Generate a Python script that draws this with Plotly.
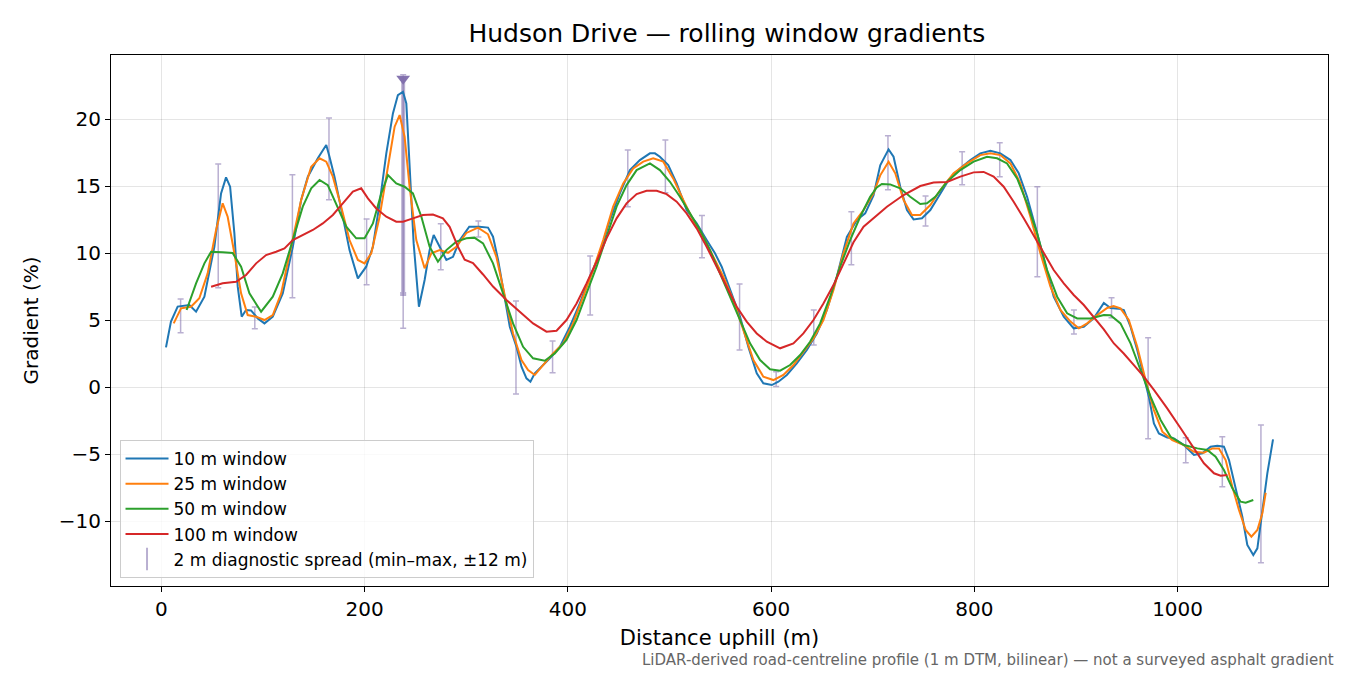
"""
Rolling-window gradient profile for Hudson Drive.

Four smoothed gradient series (10/25/50/100 m windows) along the road,
plus the min-max spread of the raw 2 m gradient at regular stations.
"""

import plotly.graph_objects as go

# --- 10 m window -----------------------------------------------------------
W10_X = [4.6, 9.5, 16.1, 27.6, 34.2, 42.4, 52.2, 58.8, 63.7, 67.7, 71.9, 75.2,
         79.1, 83.4, 88.3, 94.9, 101.5, 109.7, 119.5, 129.4, 137.6, 144.2, 154,
         162.3, 165.5, 170.4, 178.6, 185.2, 193.4, 201.6, 208.2, 214.8, 221.4,
         227.9, 232.8, 237.8, 241.1, 244.3, 248.3, 253.5, 259.1, 264, 268,
         273.9, 280.5, 287, 293.6, 303, 313, 321.5, 326.4, 331.4, 336.3, 342.9,
         349.5, 354.4, 359.3, 363.2, 367.5, 374.1, 382.3, 392.1, 402, 411.8,
         421.7, 431.5, 441.4, 451.2, 461.1, 470.9, 480.8, 485.7, 490.6, 498.8,
         507.1, 516.9, 526.8, 536.6, 544.8, 551.4, 559.6, 569.5, 577.6, 585.9,
         592.4, 600.7, 607.2, 615.5, 625.3, 635.2, 645, 654.9, 664.7, 674.6,
         684.4, 692.6, 700.8, 707.4, 715.6, 720.5, 727.1, 733.7, 740.2, 748.5,
         756.7, 766.5, 774.7, 786.2, 796.1, 805.9, 815.8, 825.6, 835.5, 843.7,
         851.9, 860.1, 868.3, 878.1, 888, 897.8, 907.7, 917.5, 927.4, 934,
         942.2, 947.1, 953.7, 960.3, 966.8, 971.7, 976.7, 981.6, 989.8, 996.4,
         1006.2, 1016.1, 1024.3, 1032.5, 1039.1, 1045.6, 1050.6, 1057.1,
         1063.7, 1068.6, 1074.5, 1078.5, 1083.4, 1088.3, 1093.9]
W10_Y = [2.96, 4.88, 6.0, 6.12, 5.62, 6.74, 10.47, 14.45, 15.65, 14.95, 11.47,
         7.49, 5.25, 5.75, 5.72, 5.12, 4.75, 5.25, 6.99, 10.47, 13.96, 15.7,
         17.07, 18.06, 17.19, 15.7, 12.71, 10.22, 8.11, 8.98, 10.47, 13.71,
         17.44, 20.42, 21.79, 22.04, 21.17, 16.94, 10.72, 5.99, 7.99, 10.22,
         11.34, 10.47, 9.48, 9.72, 10.95, 11.96, 11.96, 11.9, 11.22, 9.48, 7.24,
         4.5, 3.0, 1.52, 0.65, 0.4, 1.02, 1.52, 2.14, 3.0, 4.5, 6.24, 8.23,
         9.98, 12.46, 14.45, 16.19, 16.94, 17.44, 17.44, 17.19, 16.57, 15.2,
         13.21, 12.21, 10.97, 9.98, 8.98, 7.24, 5.25, 3.0, 1.02, 0.28, 0.15,
         0.4, 0.9, 1.77, 2.76, 4.0, 5.75, 8.23, 11.2, 12.46, 12.96, 14.3,
         16.55, 17.74, 17.19, 14.95, 13.21, 12.51, 12.59, 13.21, 14.45, 15.45,
         16.32, 16.94, 17.44, 17.64, 17.44, 16.94, 15.95, 14.2, 11.96, 9.48,
         6.74, 5.25, 4.38, 4.5, 5.12, 6.27, 5.9, 5.85, 5.75, 4.5, 2.76, 0.77,
         -0.72, -2.71, -3.46, -3.76, -3.83, -4.33, -5.07, -4.95, -4.45, -4.38,
         -4.45, -5.45, -7.44, -9.68, -11.79, -12.54, -12.04, -9.43, -6.44,
         -3.91]

# --- 25 m window -----------------------------------------------------------
W25_X = [12.2, 19.4, 29.2, 37.4, 45.6, 53.9, 60.4, 65.3, 71.9, 78.5, 85, 93.3,
         101.5, 109.7, 117.9, 127.8, 137.6, 147.5, 155.7, 162.3, 168.8, 177,
         185.2, 193.4, 200, 206.6, 214.8, 223, 229.6, 234.5, 239.4, 244.3,
         250.9, 259.1, 265.7, 273.9, 282.1, 290.3, 300.2, 311.6, 321.5, 329.7,
         337.9, 346.1, 354.4, 360.9, 367.5, 375.7, 385.5, 395.4, 405.2, 415.1,
         424.9, 434.8, 444.6, 454.5, 464.3, 474.2, 484, 493.9, 503.7, 513.6,
         523.4, 533.3, 543.2, 553, 562.9, 572.7, 582.6, 592.4, 602.3, 612.1,
         622, 631.8, 641.7, 651.5, 661.4, 671.2, 681.1, 691, 700.8, 707.4,
         715.6, 722.2, 730.4, 738.6, 746.8, 756.7, 766.5, 779.6, 792.8, 805.9,
         815.8, 825.6, 835.5, 845.3, 855.2, 865, 874.9, 884.7, 894.6, 902.8,
         911, 920.9, 930.7, 937, 943.8, 952, 960.3, 968.5, 976.7, 985, 994.8,
         1006.2, 1016.1, 1025.9, 1034.2, 1040.7, 1047.3, 1053.9, 1060.4, 1067,
         1072.6, 1078.5, 1083.4, 1086.7]
W25_Y = [4.75, 5.87, 5.99, 6.62, 8.48, 11.72, 13.71, 12.71, 9.98, 6.99, 5.37,
         5.25, 5.0, 5.37, 6.99, 10.47, 13.96, 16.44, 17.07, 16.82, 15.7, 13.46,
         10.97, 9.48, 9.23, 9.98, 12.71, 16.44, 19.43, 20.3, 18.68, 14.95,
         10.97, 8.86, 9.98, 10.22, 10.02, 10.47, 11.5, 11.9, 11.4, 9.72, 6.74,
         4.0, 2.01, 1.27, 0.9, 1.64, 2.51, 3.26, 4.75, 6.74, 8.73, 10.97,
         13.46, 15.2, 16.32, 16.82, 17.07, 16.82, 15.57, 13.96, 12.46, 11.22,
         9.72, 8.23, 6.49, 4.25, 2.01, 0.77, 0.52, 0.9, 1.64, 2.63, 3.63, 5.0,
         7.24, 9.98, 12.21, 13.21, 14.45, 15.8, 16.82, 15.95, 13.96, 12.84,
         12.84, 13.58, 14.7, 15.95, 16.69, 17.31, 17.44, 17.31, 16.69, 15.2,
         12.71, 9.98, 7.49, 5.75, 4.88, 4.38, 4.75, 5.37, 5.9, 6.05, 5.87, 5.0,
         3.0, 0.52, -1.72, -3.33, -3.96, -4.33, -4.83, -4.9, -4.58, -4.58,
         -5.45, -7.44, -9.18, -10.67, -11.17, -10.67, -9.43, -7.89]

# --- 50 m window -----------------------------------------------------------
W50_X = [24.9, 34.2, 42.4, 49, 60.4, 70.2, 78.5, 86.7, 98.2, 109.7, 119.5,
         129.4, 139.2, 147.5, 155.7, 163.8, 172.1, 182, 191.8, 200, 208.2,
         216.5, 223, 231.2, 239.4, 247.6, 255.9, 264, 272.2, 280.5, 290.3,
         300.2, 308, 316.6, 326.4, 336.3, 346.1, 356, 365.8, 377.3, 387.2,
         398.7, 408.6, 418.4, 428.3, 438.1, 448, 457.8, 467.7, 480.8, 490.6,
         500.5, 510.3, 520.2, 530, 539.9, 549.8, 559.6, 569.5, 579.3, 589.2,
         599, 608.9, 618.7, 628.6, 638.4, 648.3, 658.1, 668, 677.8, 687.7,
         697.5, 704, 709, 717.2, 727.1, 736.9, 746.8, 753.4, 761.6, 773.1,
         786.2, 799.3, 812.5, 822.4, 832.2, 842.1, 851.9, 861.8, 871.6, 881.5,
         891.3, 901.2, 914.3, 927.4, 934, 943.8, 953.7, 963.5, 973.4, 983.3,
         993.1, 1006.2, 1019.4, 1029.2, 1037.4, 1045.6, 1053.9, 1062, 1067,
         1074.5]
W50_Y = [5.75, 7.74, 9.23, 10.1, 10.05, 10.0, 8.98, 6.99, 5.62, 6.74, 8.48,
         10.97, 13.46, 14.83, 15.45, 15.07, 13.71, 11.96, 11.1, 11.1, 12.21,
         14.45, 15.82, 15.2, 14.95, 14.45, 12.71, 10.47, 9.35, 10.22, 10.85,
         11.1, 11.15, 10.72, 9.23, 6.99, 4.75, 3.0, 2.14, 1.96, 2.51, 3.51,
         5.0, 6.99, 8.98, 11.22, 13.46, 15.07, 16.19, 16.69, 16.19, 15.32,
         14.2, 12.96, 11.72, 10.22, 8.48, 6.74, 5.0, 3.26, 2.01, 1.32, 1.22,
         1.64, 2.39, 3.38, 4.75, 6.74, 8.98, 10.97, 12.71, 14.2, 14.9, 15.15,
         15.12, 14.83, 14.2, 13.66, 13.71, 14.2, 15.32, 16.19, 16.82, 17.19,
         17.07, 16.69, 15.57, 13.71, 11.47, 8.73, 6.74, 5.5, 5.12, 5.12, 5.37,
         5.35, 4.75, 3.26, 1.27, -0.72, -2.46, -3.71, -4.33, -4.58, -4.7,
         -5.2, -6.19, -7.56, -8.56, -8.63, -8.43]

# --- 100 m window ----------------------------------------------------------
W100_X = [49, 60.4, 73.6, 83.4, 93.3, 103.1, 113, 121.2, 129.4, 139.2, 149.1,
          158.9, 168.8, 178.6, 188.5, 196.7, 203.3, 211.5, 221.4, 231.2, 237.8,
          247.6, 257.4, 267.3, 277.1, 283.7, 291.9, 298.5, 306.7, 316.6, 326.4,
          339.6, 352.7, 365.8, 379, 388.9, 398.7, 408.6, 418.4, 428.3, 438.1,
          448, 457.8, 467.7, 477.5, 487.4, 497.2, 507.1, 516.9, 526.8, 536.6,
          546.5, 556.3, 566.2, 576, 585.9, 595.8, 608.9, 622, 631.8, 641.7,
          651.5, 661.4, 671.2, 681.1, 691, 700.8, 714, 730.4, 746.8, 759.9,
          773.1, 786.2, 799.3, 809.2, 819, 828.9, 838.7, 848.6, 858.4, 868.3,
          878.1, 888, 897.8, 907.7, 917.5, 927.4, 937.3, 947, 957, 966.8,
          976.7, 989.8, 1003, 1016.1, 1025.9, 1035.8, 1042.4, 1049]
W100_Y = [7.49, 7.74, 7.86, 8.36, 9.23, 9.85, 10.1, 10.35, 10.97, 11.34,
          11.72, 12.21, 12.84, 13.71, 14.58, 14.83, 14.08, 13.33, 12.71, 12.34,
          12.34, 12.59, 12.84, 12.88, 12.59, 11.96, 10.47, 9.5, 9.25, 8.4, 7.5,
          6.49, 5.62, 4.75, 4.13, 4.2, 5.0, 6.24, 7.74, 9.35, 11.1, 12.59,
          13.71, 14.4, 14.65, 14.65, 14.4, 13.83, 12.96, 11.84, 10.47, 8.98,
          7.49, 5.99, 4.88, 4.0, 3.38, 2.89, 3.26, 4.0, 5.0, 6.24, 7.61, 9.23,
          10.8, 11.96, 12.6, 13.46, 14.33, 15.0, 15.27, 15.3, 15.7, 16.02,
          16.05, 15.7, 14.95, 13.83, 12.59, 11.34, 9.98, 8.73, 7.74, 6.87,
          6.12, 5.2, 4.3, 3.25, 2.5, 1.64, 0.77, -0.22, -1.59, -3.08, -4.58,
          -5.69, -6.44, -6.62, -6.57]

# --- 2 m diagnostic spread (min / max within +-12 m of each station) --------
SPREAD_X = [19, 56, 92, 129, 165, 202, 238, 275, 312, 349, 385, 422, 459, 496,
            532, 569, 605, 642, 679, 715, 752, 788, 825, 862, 898, 935, 971,
            1008, 1044, 1082]
SPREAD_LO = [4.05, 7.41, 4.35, 6.67, 13.98, 7.64, 4.38, 8.76, 11.2, -0.52,
             1.07, 5.37, 13.46, 14.5, 9.65, 2.76, 0.03, 3.13, 9.13, 14.73,
             12.01, 15.1, 15.7, 8.23, 3.96, 5.17, -3.86, -5.65, -7.44, -13.11]
SPREAD_HI = [6.57, 16.64, 5.97, 15.85, 20.07, 12.54, 23.3, 12.19, 12.39, 6.42,
             3.43, 9.78, 17.69, 18.43, 12.81, 7.69, 1.14, 5.75, 13.09, 18.76,
             14.25, 17.56, 18.24, 14.95, 5.75, 6.66, 3.68, -3.78, -3.71, -2.84]

# station whose spread runs off the top of the axis
CLIP_X = [238]
CLIP_LO = [6.94]
CLIP_Y = [23.0]

SERIES = [
    ("10 m window", W10_X, W10_Y, "#1f77b4"),
    ("25 m window", W25_X, W25_Y, "#ff7f0e"),
    ("50 m window", W50_X, W50_Y, "#2ca02c"),
    ("100 m window", W100_X, W100_Y, "#d62728"),
]
SPREAD_COLOR = "rgba(128,110,172,0.55)"
FONT = "DejaVu Sans, Liberation Sans, sans-serif"


def build_figure() -> go.Figure:
    fig = go.Figure()

    # spread bars first so the window lines sit on top
    fig.add_trace(go.Scatter(
        x=SPREAD_X, y=SPREAD_LO, mode="markers",
        marker=dict(size=1, opacity=0),
        error_y=dict(type="data", symmetric=False,
                     array=[h - l for h, l in zip(SPREAD_HI, SPREAD_LO)],
                     arrayminus=[0] * len(SPREAD_LO),
                     color=SPREAD_COLOR, thickness=1.5, width=3),
        showlegend=False, hoverinfo="skip",
    ))
    fig.add_trace(go.Scatter(
        x=CLIP_X, y=CLIP_LO, mode="markers",
        marker=dict(size=1, opacity=0),
        error_y=dict(type="data", symmetric=False,
                     array=[y - l for y, l in zip(CLIP_Y, CLIP_LO)],
                     arrayminus=[0], color=SPREAD_COLOR, thickness=4, width=3),
        showlegend=False, hoverinfo="skip",
    ))

    for name, xs, ys, color in SERIES:
        fig.add_trace(go.Scatter(x=xs, y=ys, mode="lines", name=name,
                                 line=dict(color=color, width=2)))

    fig.add_trace(go.Scatter(
        x=CLIP_X, y=CLIP_Y, mode="markers", showlegend=False,
        marker=dict(symbol="triangle-down", size=12,
                    color="rgba(128,110,172,0.95)"),
    ))
    # legend-only handle for the spread bars
    fig.add_trace(go.Scatter(
        x=[None], y=[None], mode="markers",
        name="2 m diagnostic spread (min\u2013max, \u00b112 m)",
        marker=dict(symbol="line-ns-open", size=16, color=SPREAD_COLOR,
                    line=dict(color=SPREAD_COLOR, width=2)),
    ))

    axis = dict(showline=True, linecolor="black", linewidth=1.2, mirror=True,
                ticks="outside", ticklen=5, tickwidth=1.2, tickcolor="black",
                showgrid=True, gridcolor="rgba(0,0,0,0.1)", gridwidth=1,
                zeroline=False, tickfont=dict(size=20, color="black"))
    fig.update_xaxes(**axis, range=[-49.5, 1148],
                     tickvals=[0, 200, 400, 600, 800, 1000],
                     title=dict(text="Distance uphill (m)", standoff=10,
                                font=dict(size=21, color="black")))
    fig.update_yaxes(**axis, range=[-14.85, 24.78],
                     tickvals=[-10, -5, 0, 5, 10, 15, 20],
                     title=dict(text="Gradient (%)", standoff=14,
                                font=dict(size=20, color="black")))

    # the page body adds an 8 px offset, so margins are pulled in by 8 px
    fig.update_layout(
        width=1350, height=675,
        margin=dict(l=103, r=30, t=47, b=97),
        paper_bgcolor="white", plot_bgcolor="white",
        font=dict(family=FONT, color="black"),
        title=dict(text="Hudson Drive \u2014 rolling window gradients",
                   x=0.5325, xanchor="center", y=0.963, yanchor="middle",
                   font=dict(size=25, color="black")),
        legend=dict(x=0.007, y=0.015, xanchor="left", yanchor="bottom",
                    bgcolor="rgba(255,255,255,0.8)", bordercolor="#cccccc",
                    borderwidth=1, font=dict(size=17),
                    tracegroupgap=0, itemwidth=43),
        showlegend=True,
    )
    fig.add_annotation(
        text="LiDAR-derived road-centreline profile (1 m DTM, bilinear) "
             "\u2014 not a surveyed asphalt gradient",
        xref="paper", yref="paper", x=1.0066, y=-0.139,
        xanchor="right", yanchor="middle", showarrow=False,
        font=dict(size=15, color="#666666"),
    )
    return fig


def main() -> None:
    fig = build_figure()
    fig.write_html("out.html")


if __name__ == "__main__":
    main()
